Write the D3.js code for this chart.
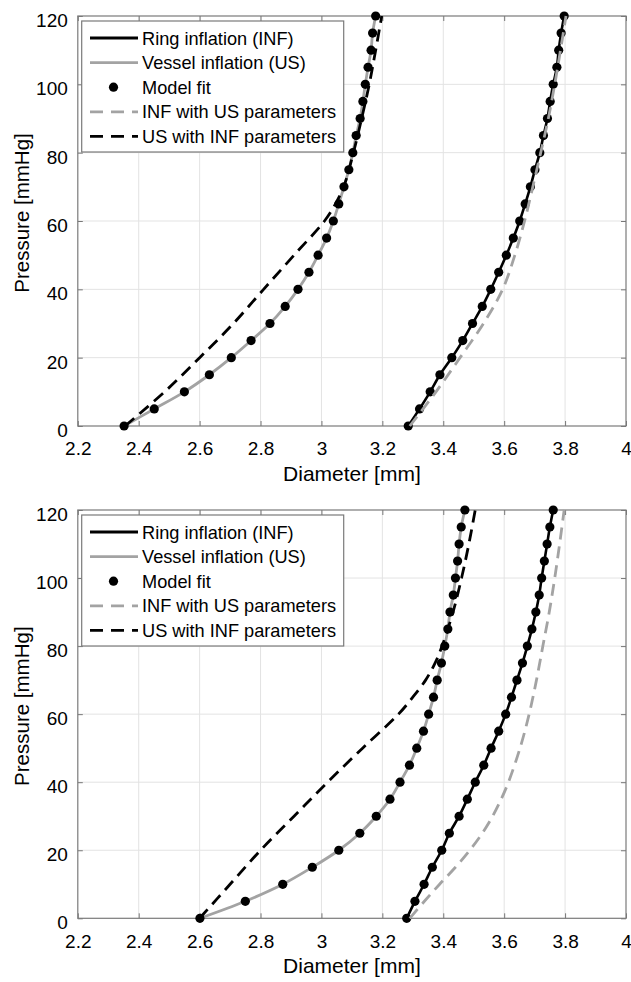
<html>
<head>
  <script src="https://d3js.org/d3.v7.min.js"></script>
  <style>
  body{
    margin: 0;
    background: #fff;
  }
  svg{
    display: block;
  }
  text{
    font-family: "Liberation Sans", Arial, sans-serif;
    fill: #000;
  }
  </style>
</head>
<body>
  <svg id="chart" width="631" height="982"></svg>
  <script type="text/javascript">
    // ---- data ----
    var pressure=[0,5,10,15,20,25,30,35,40,45,50,55,60,65,70,75,80,85,90,95,100,105,110,115,120];

    // top panel
    var usTop=[2.352,2.451,2.550,2.632,2.704,2.769,2.831,2.881,2.923,2.959,2.989,3.017,3.039,3.057,3.074,3.090,3.103,3.114,3.127,3.136,3.144,3.153,3.163,3.168,3.178];
    var infTop=[3.285,3.322,3.357,3.389,3.428,3.464,3.496,3.528,3.556,3.582,3.607,3.630,3.651,3.669,3.686,3.701,3.717,3.729,3.742,3.751,3.761,3.773,3.779,3.787,3.797];
    var usInfParPTop=[0,10,20,30,40,50,60,65,70,80,90,100,110,120];
    var usInfParTop=[2.355,2.485,2.600,2.711,2.810,2.910,3.010,3.046,3.073,3.105,3.132,3.157,3.178,3.198];
    var infUsParPTop=[0,10,20,30,40,50,60,70,80,90,100,110,120];
    var infUsParTop=[3.290,3.376,3.455,3.532,3.595,3.635,3.667,3.694,3.720,3.745,3.766,3.785,3.803];

    // bottom panel
    var usBot=[2.601,2.750,2.873,2.970,3.057,3.126,3.180,3.225,3.258,3.289,3.313,3.335,3.352,3.368,3.380,3.394,3.405,3.415,3.422,3.433,3.440,3.447,3.452,3.459,3.471];
    var infBot=[3.280,3.307,3.337,3.364,3.395,3.420,3.452,3.479,3.505,3.533,3.557,3.582,3.605,3.624,3.642,3.660,3.676,3.691,3.704,3.715,3.723,3.732,3.741,3.750,3.761];
    var usInfParPBot=[0,10,20,30,40,50,60,65,70,75,80,90,100,110,120];
    var usInfParBot=[2.600,2.700,2.800,2.910,3.020,3.135,3.253,3.300,3.342,3.373,3.396,3.432,3.460,3.484,3.505];
    var infUsParPBot=[0,5,10,15,20,25,30,35,40,50,60,70,80,90,100,110,120];
    var infUsParBot=[3.290,3.338,3.388,3.440,3.487,3.528,3.562,3.590,3.614,3.652,3.682,3.706,3.727,3.748,3.766,3.782,3.797];

    var xTicks=[2.2,2.4,2.6,2.8,3,3.2,3.4,3.6,3.8,4];
    var yTicks=[0,20,40,60,80,100,120];
    var legendNames=["Ring inflation (INF)","Vessel inflation (US)","Model fit","INF with US parameters","US with INF parameters"];

    // ---- layout ----
    var left=77.8, right=626;
    var tickLen=5;
    var gray="#a3a3a3";
    var svg=d3.select("#chart");

    var x=d3.scaleLinear().domain([2.2,4]).range([left,right]);

    var pairs=function(ds,ps){
      return ds.map(function(d,i){ return {d:d,p:ps[i]}; });
    };

    var drawPanel=function(top,bottom,p){
      var y=d3.scaleLinear().domain([0,120]).range([bottom,top]);
      var g=svg.append("g");
      var h=bottom-top;

      // grid
      g.append("g").selectAll("line")
       .data(xTicks.slice(1,-1))
       .enter().append("line")
       .attr("x1",function(d){ return x(d) }).attr("x2",function(d){ return x(d) })
       .attr("y1",top).attr("y2",bottom)
       .attr("stroke","#e3e3e3").attr("stroke-width",1);
      g.append("g").selectAll("line")
       .data(yTicks.slice(1,-1))
       .enter().append("line")
       .attr("y1",function(d){ return y(d) }).attr("y2",function(d){ return y(d) })
       .attr("x1",left).attr("x2",right)
       .attr("stroke","#e3e3e3").attr("stroke-width",1);

      // axes, ticks pointing inward
      var axB=g.append("g").attr("transform","translate(0,"+bottom+")")
        .call(d3.axisBottom(x).tickValues(xTicks).tickFormat(d3.format("~g")).tickSize(-tickLen).tickPadding(16));
      var axT=g.append("g").attr("transform","translate(0,"+top+")")
        .call(d3.axisTop(x).tickValues(xTicks).tickFormat("").tickSize(-tickLen));
      var axL=g.append("g").attr("transform","translate("+left+",0)")
        .call(d3.axisLeft(y).tickValues(yTicks).tickSize(-tickLen).tickPadding(10));
      var axR=g.append("g").attr("transform","translate("+right+",0)")
        .call(d3.axisRight(y).tickValues(yTicks).tickFormat("").tickSize(-tickLen));
      [axB,axT,axL,axR].forEach(function(a){
        a.select(".domain").remove();
        a.selectAll("line").attr("stroke","#777");
        a.selectAll("text").attr("font-size",19).attr("font-family","Liberation Sans, Arial, sans-serif").attr("fill","#000");
      });
      axL.selectAll("text").attr("dy","0.55em");

      g.append("rect")
       .attr("x",left).attr("y",top).attr("width",right-left).attr("height",h)
       .attr("fill","none").attr("stroke","#7a7a7a").attr("stroke-width",1.2);

      // axis labels
      g.append("text")
       .attr("x",(left+right)/2).attr("y",bottom+55)
       .attr("text-anchor","middle").attr("font-size",21)
       .text("Diameter [mm]");
      g.append("text")
       .attr("transform","translate(29,"+(top+h/2-8)+") rotate(-90)")
       .attr("text-anchor","middle").attr("font-size",20.5)
       .text("Pressure [mmHg]");

      // curves
      var line=d3.line()
        .x(function(d){ return x(d.d) })
        .y(function(d){ return y(d.p) })
        .curve(d3.curveCatmullRom.alpha(0.5));

      g.append("path").datum(pairs(p.inf,pressure)).attr("d",line)
       .attr("fill","none").attr("stroke","#000").attr("stroke-width",2.6);
      g.append("path").datum(pairs(p.us,pressure)).attr("d",line)
       .attr("fill","none").attr("stroke",gray).attr("stroke-width",2.8);

      g.append("g").selectAll("circle")
       .data(pairs(p.us,pressure).concat(pairs(p.inf,pressure)))
       .enter().append("circle")
       .attr("cx",function(d){ return x(d.d) })
       .attr("cy",function(d){ return y(d.p) })
       .attr("r",4.6).attr("fill","#000");

      g.append("path").datum(pairs(p.infUs,p.infUsP)).attr("d",line)
       .attr("fill","none").attr("stroke",gray).attr("stroke-width",2.8)
       .attr("stroke-dasharray","12,7");
      g.append("path").datum(pairs(p.usInf,p.usInfP)).attr("d",line)
       .attr("fill","none").attr("stroke","#000").attr("stroke-width",2.8)
       .attr("stroke-dasharray","12,7");

      // legend
      var lx=81.7, ly=top+5, lw=262, lh=131, rowH=24.6;
      var lg=g.append("g");
      lg.append("rect")
        .attr("x",lx).attr("y",ly).attr("width",lw).attr("height",lh)
        .attr("fill","#fff").attr("stroke","#7a7a7a").attr("stroke-width",1.2);
      var styles=[
        {c:"#000",dash:null,dot:false},
        {c:gray,dash:null,dot:false},
        {c:"#000",dash:null,dot:true},
        {c:gray,dash:"13,8",dot:false},
        {c:"#000",dash:"13,8",dot:false}
      ];
      legendNames.forEach(function(name,i){
        var ry=ly+17+i*rowH;
        var s=styles[i];
        if(s.dot){
          lg.append("circle").attr("cx",113.5).attr("cy",ry).attr("r",4.6).attr("fill","#000");
        } else {
          lg.append("line")
            .attr("x1",90).attr("x2",138).attr("y1",ry).attr("y2",ry)
            .attr("stroke",s.c).attr("stroke-width",2.8)
            .attr("stroke-dasharray",s.dash);
        }
        lg.append("text")
          .attr("x",142).attr("y",ry+6.5)
          .attr("font-size",18.2)
          .text(name);
      });
    };

    drawPanel(16,426,{us:usTop,inf:infTop,usInf:usInfParTop,usInfP:usInfParPTop,infUs:infUsParTop,infUsP:infUsParPTop});
    drawPanel(510,918.3,{us:usBot,inf:infBot,usInf:usInfParBot,usInfP:usInfParPBot,infUs:infUsParBot,infUsP:infUsParPBot});
  </script>
</body>
</html>
